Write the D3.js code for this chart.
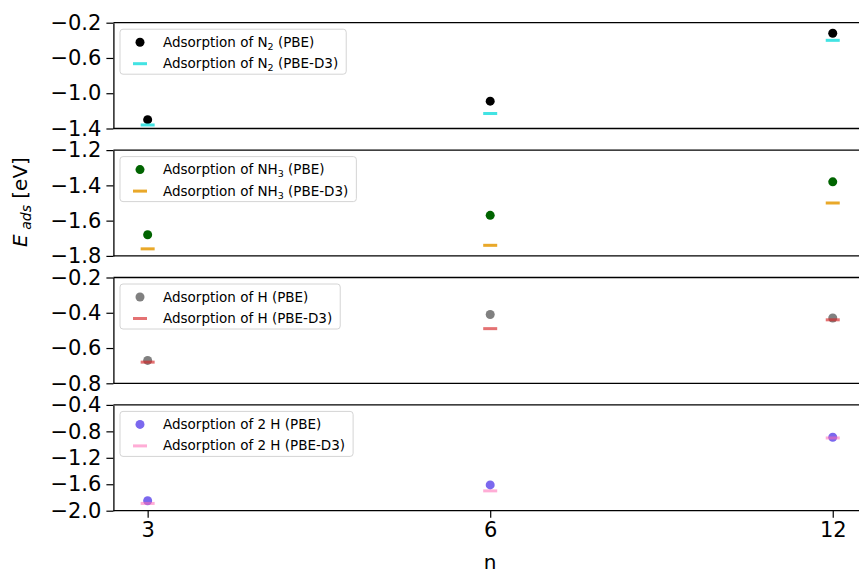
<!DOCTYPE html>
<html>
<head>
<meta charset="utf-8">
<script src="https://cdn.jsdelivr.net/npm/d3@7"></script>
<style>
  body { margin: 0; background: #fff; }
  svg { font-family: "DejaVu Sans", sans-serif; }
</style>
</head>
<body>
<script>
const w = 859
const h = 574

// data
const nValues = ['3', '6', '12']

const n2PBE = [-1.30, -1.09, -0.32]
const n2D3 = [-1.36, -1.23, -0.40]
const nh3PBE = [-1.68, -1.57, -1.38]
const nh3D3 = [-1.76, -1.74, -1.50]
const hPBE = [-0.67, -0.41, -0.43]
const hD3 = [-0.68, -0.49, -0.44]
const h2PBE = [-1.85, -1.61, -0.89]
const h2D3 = [-1.89, -1.70, -0.90]

const yTicks1 = [-0.2, -0.6, -1.0, -1.4]
const yTicks2 = [-1.2, -1.4, -1.6, -1.8]
const yTicks3 = [-0.2, -0.4, -0.6, -0.8]
const yTicks4 = [-0.4, -0.8, -1.2, -1.6, -2.0]

const panels = [
    {species: ['N', '2'], pbe: n2PBE, d3: n2D3, domain: [-1.4, -0.2], ticks: yTicks1,
        c1: '#000000', c2: '#2ee0e0', o2: 0.9},
    {species: ['NH', '3'], pbe: nh3PBE, d3: nh3D3, domain: [-1.8, -1.2], ticks: yTicks2,
        c1: '#006400', c2: '#e8a31e', o2: 0.95},
    {species: ['H', ''], pbe: hPBE, d3: hD3, domain: [-0.8, -0.2], ticks: yTicks3,
        c1: '#808080', c2: '#d62728', o2: 0.65},
    {species: ['2 H', ''], pbe: h2PBE, d3: h2D3, domain: [-2.0, -0.4], ticks: yTicks4,
        c1: '#7b68ee', c2: '#ff69b4', o2: 0.55}
]

const left = 113.4
const right = 867
const top0 = 22.7
const step = 127.4
const ph = 105.8

const svg = d3.select('body').append('svg')
    .attr('width', w)
    .attr('height', h)

const x = d3.scalePoint()
    .domain(nValues)
    .range([left, right])
    .padding(0.1)

panels.forEach(function (p, i) {
    const top = top0 + i * step
    const y = d3.scaleLinear()
        .domain(p.domain)
        .range([top + ph, top])

    const g = svg.append('g')

    // frame lines (top/bottom), right spine is off the picture
    g.append('line').attr('x1', left).attr('x2', right).attr('y1', top).attr('y2', top)
        .attr('stroke', '#000').attr('stroke-width', 1.3)
    g.append('line').attr('x1', left).attr('x2', right).attr('y1', top + ph).attr('y2', top + ph)
        .attr('stroke', '#000').attr('stroke-width', 1.3)

    const yAxis = g.append('g')
        .attr('transform', 'translate(' + left + ',0)')
        .call(d3.axisLeft(y).tickValues(p.ticks).tickSize(7).tickPadding(5)
            .tickFormat(d3.format('.1f')).tickSizeOuter(0))
    yAxis.select('.domain').attr('stroke-width', 1.3)
    yAxis.selectAll('.tick line').attr('stroke-width', 1.2)
    yAxis.selectAll('text').attr('font-size', 21).attr('fill', '#000')
        .attr('font-family', '"DejaVu Sans", sans-serif')

    if (i === panels.length - 1) {
        const xAxis = g.append('g')
            .attr('transform', 'translate(0,' + (top + ph) + ')')
            .call(d3.axisBottom(x).tickSize(7).tickPadding(4).tickSizeOuter(0))
        xAxis.select('.domain').remove()
        xAxis.selectAll('.tick line').attr('stroke-width', 1.2)
        xAxis.selectAll('text').attr('font-size', 21).attr('fill', '#000')
            .attr('font-family', '"DejaVu Sans", sans-serif')
    }

    // legend
    const lg = g.append('g')
    const box = lg.append('rect')
        .attr('x', 120).attr('y', top + 6.5)
        .attr('rx', 3).attr('ry', 3)
        .attr('height', 45)
        .attr('fill', 'rgba(255,255,255,0.8)')
        .attr('stroke', '#d4d4d4')
        .attr('stroke-width', 1)

    const labels = ['PBE', 'PBE-D3']
    let maxW = 0
    labels.forEach(function (lab, k) {
        const ry = top + 19.5 + k * 21.5
        if (k === 0) {
            lg.append('circle').attr('cx', 140).attr('cy', ry).attr('r', 4.5).attr('fill', p.c1)
        } else {
            lg.append('rect').attr('x', 133).attr('y', ry - 1.5).attr('width', 14).attr('height', 3)
                .attr('fill', p.c2).attr('fill-opacity', p.o2)
        }
        const t = lg.append('text')
            .attr('x', 163).attr('y', ry + 4.5)
            .attr('font-size', 13.5).attr('fill', '#000')
        t.append('tspan').text('Adsorption of ' + p.species[0])
        if (p.species[1]) {
            t.append('tspan').attr('font-size', 9.5).attr('dy', 3).text(p.species[1])
            t.append('tspan').attr('dy', -3).text(' (' + lab + ')')
        } else {
            t.append('tspan').text(' (' + lab + ')')
        }
        maxW = Math.max(maxW, t.node().getComputedTextLength())
    })
    box.attr('width', 163 - 120 + maxW + 8)

    // PBE circles, then PBE-D3 dashes on top
    g.selectAll('circle.pbe')
        .data(p.pbe)
        .enter()
        .append('circle')
        .attr('class', 'pbe')
        .attr('cx', function (d, j) { return x(nValues[j]) })
        .attr('cy', function (d) { return y(d) })
        .attr('r', 4.5)
        .attr('fill', p.c1)

    g.selectAll('rect.d3m')
        .data(p.d3)
        .enter()
        .append('rect')
        .attr('class', 'd3m')
        .attr('x', function (d, j) { return x(nValues[j]) - 7 })
        .attr('y', function (d) { return y(d) - 1.5 })
        .attr('width', 14)
        .attr('height', 3)
        .attr('fill', p.c2)
        .attr('fill-opacity', p.o2)
})

// axis titles
svg.append('text')
    .attr('x', (left + right) / 2)
    .attr('y', 569)
    .attr('text-anchor', 'middle')
    .attr('font-size', 20)
    .text('n')

const yl = svg.append('text')
    .attr('transform', 'translate(27,202) rotate(-90)')
    .attr('text-anchor', 'middle')
    .attr('font-size', 20)
yl.append('tspan').attr('font-style', 'italic').text('E')
yl.append('tspan').attr('font-style', 'italic').attr('font-size', 14).attr('dy', 4).text(' ads')
yl.append('tspan').attr('dy', -4).text(' [eV]')
</script>
</body>
</html>
